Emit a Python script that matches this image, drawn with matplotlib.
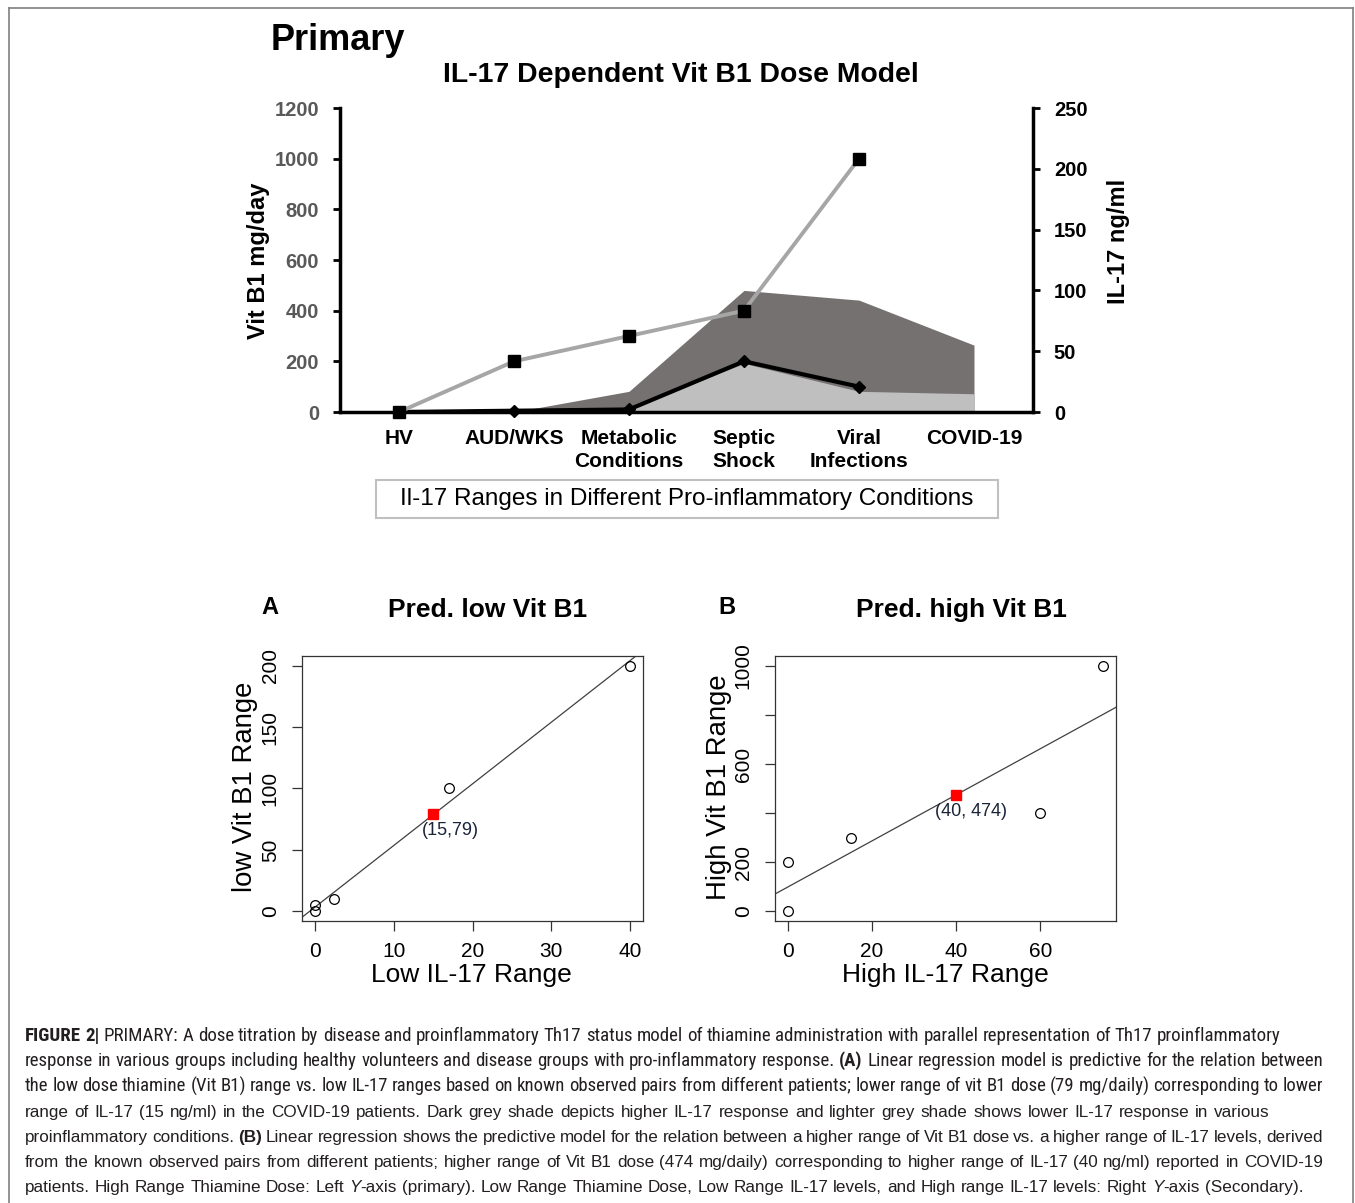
import numpy as np
import matplotlib
matplotlib.use("Agg")
import matplotlib.pyplot as plt
from matplotlib.lines import Line2D
from matplotlib.patches import Rectangle

plt.rcParams['font.family'] = ['Liberation Sans', 'DejaVu Sans']

# ---- data: primary dose model ----
conditions = ["HV", "AUD/WKS", "Metabolic\nConditions", "Septic\nShock",
              "Viral\nInfections", "COVID-19"]
high_vitb1 = [0, 200, 300, 400, 1000]          # mg/day, left axis (squares)
low_vitb1 = [0, 5, 10, 200, 100]               # mg/day, left axis (diamonds)
high_il17 = [0, 0, 17, 100, 92, 55]            # ng/ml, right axis (dark shade)
low_il17 = [0, 0, 2.5, 40, 17, 15]             # ng/ml, right axis (light shade)

# ---- data: regression panels ----
low_il17_obs = [0, 0, 2.5, 17, 40]
low_vitb1_obs = [0, 5, 10, 100, 200]
pred_low = (15, 79)
high_il17_obs = [0, 0, 15, 60, 75]
high_vitb1_obs = [0, 200, 300, 400, 1000]
pred_high = (40, 474)

caption_lines = [
    "**FIGURE 2|** PRIMARY: A dose titration by disease and proinflammatory Th17 status model of thiamine administration with parallel representation of Th17 proinflammatory",
    "response in various groups including healthy volunteers and disease groups with pro-inflammatory response. **(A)** Linear regression model is predictive for the relation between",
    "the low dose thiamine (Vit B1) range vs. low IL-17 ranges based on known observed pairs from different patients; lower range of vit B1 dose (79 mg/daily) corresponding to lower",
    "range of IL-17 (15 ng/ml) in the COVID-19 patients. Dark grey shade depicts higher IL-17 response and lighter grey shade shows lower IL-17 response in various",
    "proinflammatory conditions. **(B)** Linear regression shows the predictive model for the relation between a higher range of Vit B1 dose vs. a higher range of IL-17 levels, derived",
    "from the known observed pairs from different patients; higher range of Vit B1 dose (474 mg/daily) corresponding to higher range of IL-17 (40 ng/ml) reported in COVID-19",
    "patients. High Range Thiamine Dose: Left __Y__-axis (primary). Low Range Thiamine Dose, Low Range IL-17 levels, and High range IL-17 levels: Right __Y__-axis (Secondary).",
]
caption_ends = [1280, 1323, 1323, 1270, 1323, 1323, 1303]

W, H = 1355, 1203


def fx(px):
    return px / W


def fy(py):
    return 1 - py / H


fig = plt.figure(figsize=(W / 100, H / 100), dpi=100)

# outer frame
for xs, ys in [([9, 9], [8, H]), ([9, 1353], [8, 8]), ([1353, 1353], [8, H])]:
    fig.add_artist(Line2D([fx(v) for v in xs], [fy(v) for v in ys],
                          transform=fig.transFigure, color='#808080', lw=1.2))

# ================= top chart =================
ax = fig.add_axes([fx(340), fy(412), (1033 - 340) / W, (412 - 108) / H])
ax2 = ax.twinx()
ax.set_zorder(ax2.get_zorder() + 1)
ax.patch.set_visible(False)

x_all = np.arange(len(conditions))
x_line = np.arange(len(high_vitb1))

ax2.fill_between(x_all, high_il17, color='#767171', lw=0)
ax2.fill_between(x_all, low_il17, color='#bfbfbf', lw=0)

ax.plot(x_line, low_vitb1, color='black', lw=3, marker='D', ms=6.5,
        mfc='black', mec='black', clip_on=False, zorder=3)
ax.plot(x_line, high_vitb1, color='#a6a6a6', lw=2.8, marker='s', ms=8,
        mfc='black', mec='black', clip_on=False, zorder=4)

ax.set_xlim(-0.513, 5.513)
ax.set_ylim(0, 1200)
ax2.set_ylim(0, 250)
ax.set_yticks(range(0, 1201, 200))
ax2.set_yticks(range(0, 251, 50))
ax.set_xticks(x_all)
ax.set_xticklabels(conditions, fontsize=15, fontweight='bold', linespacing=1.3)
ax.tick_params(axis='x', length=0, pad=12)
ax.tick_params(axis='y', direction='out', length=5, width=2, labelsize=14.5,
               labelcolor='#595959', pad=10)
ax2.tick_params(axis='y', direction='out', length=5, width=2, labelsize=14.5,
                pad=10)
for lbl in ax.get_yticklabels() + ax2.get_yticklabels():
    lbl.set_fontweight('bold')

for a in (ax, ax2):
    a.spines['top'].set_visible(False)
    for s in ('left', 'right', 'bottom'):
        a.spines[s].set_linewidth(2.5)
ax.spines['right'].set_visible(False)
ax2.spines['left'].set_visible(False)
ax2.spines['bottom'].set_visible(False)

fig.text(fx(258), fy(261), "Vit B1 mg/day", rotation=90, fontsize=17,
         fontweight='bold', ha='center', va='center')
fig.text(fx(1118), fy(241), "IL-17 ng/ml", rotation=90, fontsize=17,
         fontweight='bold', ha='center', va='center')
fig.text(fx(681), fy(75), "IL-17 Dependent Vit B1 Dose Model", fontsize=20.4,
         fontweight='bold', ha='center', va='center')
fig.text(fx(271), fy(40), "Primary", fontsize=26, fontweight='bold',
         ha='left', va='center')

fig.add_artist(Rectangle((fx(376), fy(518)), 622 / W, 38 / H,
                         transform=fig.transFigure, fill=False,
                         ec='#c0c0c0', lw=1.5))
fig.text(fx(687), fy(499), "Il-17 Ranges in Different Pro-inflammatory Conditions",
         fontsize=17.5, ha='center', va='center')


# ================= regression panels =================
def reg_panel(left, xs, ys, pred, xlim, ylim, xticks, yticks, ylabels,
              label_off):
    a = fig.add_axes([fx(left), fy(921), 341 / W, 265 / H])
    b1, b0 = np.polyfit(xs, ys, 1)
    a.axline((0, b0), slope=b1, color='#404040', lw=0.9)
    a.plot(xs, ys, 'o', mfc='none', mec='black', ms=7, mew=0.9)
    a.plot(pred[0], pred[1], 's', color='red', ms=7)
    a.annotate("(%d,%s%d)" % (pred[0], ' ' if pred[1] > 100 else '', pred[1]),
               xy=pred, xytext=label_off, textcoords='offset pixels',
               ha='center', va='center', fontsize=13, color='#1a2438')
    a.set_xlim(*xlim)
    a.set_ylim(*ylim)
    a.set_xticks(xticks)
    a.set_yticks(yticks)
    a.set_yticklabels(ylabels)
    a.tick_params(direction='out', length=7, width=0.9, color='#333333',
                  labelsize=15)
    a.tick_params(axis='x', pad=8)
    a.tick_params(axis='y', labelrotation=90, pad=9)
    for lbl in a.get_yticklabels():
        lbl.set_va('center')
    for s in a.spines.values():
        s.set_linewidth(0.9)
        s.set_color('#333333')
    return a


reg_panel(302, low_il17_obs, low_vitb1_obs, pred_low, (-1.6, 41.6), (-8, 208),
          [0, 10, 20, 30, 40], [0, 50, 100, 150, 200],
          ['0', '50', '100', '150', '200'], (17, -16))
reg_panel(775, high_il17_obs, high_vitb1_obs, pred_high, (-3, 78), (-40, 1040),
          [0, 20, 40, 60], [0, 200, 400, 600, 800, 1000],
          ['0', '200', '', '600', '', '1000'], (15, -17))

fig.text(fx(270), fy(607), "A", fontsize=17, fontweight='bold', ha='center', va='center')
fig.text(fx(488), fy(610), "Pred. low Vit B1", fontsize=19, fontweight='bold',
         ha='center', va='center')
fig.text(fx(727), fy(607), "B", fontsize=17, fontweight='bold', ha='center', va='center')
fig.text(fx(961), fy(610), "Pred. high Vit B1", fontsize=19, fontweight='bold',
         ha='center', va='center')

fig.text(fx(471), fy(975), "Low IL-17 Range", fontsize=19, ha='center', va='center')
fig.text(fx(245), fy(787), "low Vit B1 Range", fontsize=19.8, rotation=90,
         ha='center', va='center')
fig.text(fx(945), fy(975), "High IL-17 Range", fontsize=19, ha='center', va='center')
fig.text(fx(719), fy(787), "High Vit B1 Range", fontsize=19.8, rotation=90,
         ha='center', va='center')


# ================= caption =================
def parse_line(line):
    words, cur, buf = [], [], ''
    bold = ital = False
    i = 0
    while i < len(line):
        if line.startswith('**', i) or line.startswith('__', i):
            if buf:
                cur.append((buf, bold, ital))
                buf = ''
            if line[i] == '*':
                bold = not bold
            else:
                ital = not ital
            i += 2
            continue
        c = line[i]
        if c == ' ':
            if buf:
                cur.append((buf, bold, ital))
                buf = ''
            if cur:
                words.append(cur)
                cur = []
        else:
            buf += c
        i += 1
    if buf:
        cur.append((buf, bold, ital))
    if cur:
        words.append(cur)
    return words


renderer = fig.canvas.get_renderer()
narrow = ['Roboto Condensed', 'Roboto', 'Liberation Sans']
normal = ['Liberation Sans', 'DejaVu Sans']
x0 = 25
for k, line in enumerate(caption_lines):
    fam, base_size = (narrow, 13.6) if k < 3 else (normal, 12.3)
    y = fy(1041 + k * 25.17)
    words = parse_line(line)
    arts = []
    for word in words:
        arts.append([fig.text(0, y, t, fontsize=base_size, family=fam,
                              fontweight='bold' if b else 'normal',
                              fontstyle='italic' if it else 'normal',
                              va='baseline', ha='left', color='#231f20')
                     for t, b, it in word])
    avail = caption_ends[k] - x0

    def measure():
        return [[t.get_window_extent(renderer).width for t in w] for w in arts]

    widths = measure()
    space = 0.2 * base_size * 100 / 72
    natural = sum(sum(w) for w in widths) + space * (len(arts) - 1)
    if natural > avail:
        size = base_size * avail / natural * 0.995
        for w in arts:
            for t in w:
                t.set_fontsize(size)
        widths = measure()
    gap = (avail - sum(sum(w) for w in widths)) / (len(arts) - 1)
    xp = x0
    for w, ws in zip(arts, widths):
        for t, wd in zip(w, ws):
            t.set_x(fx(xp))
            xp += wd
        xp += gap

fig.savefig("out.png", dpi=100)
